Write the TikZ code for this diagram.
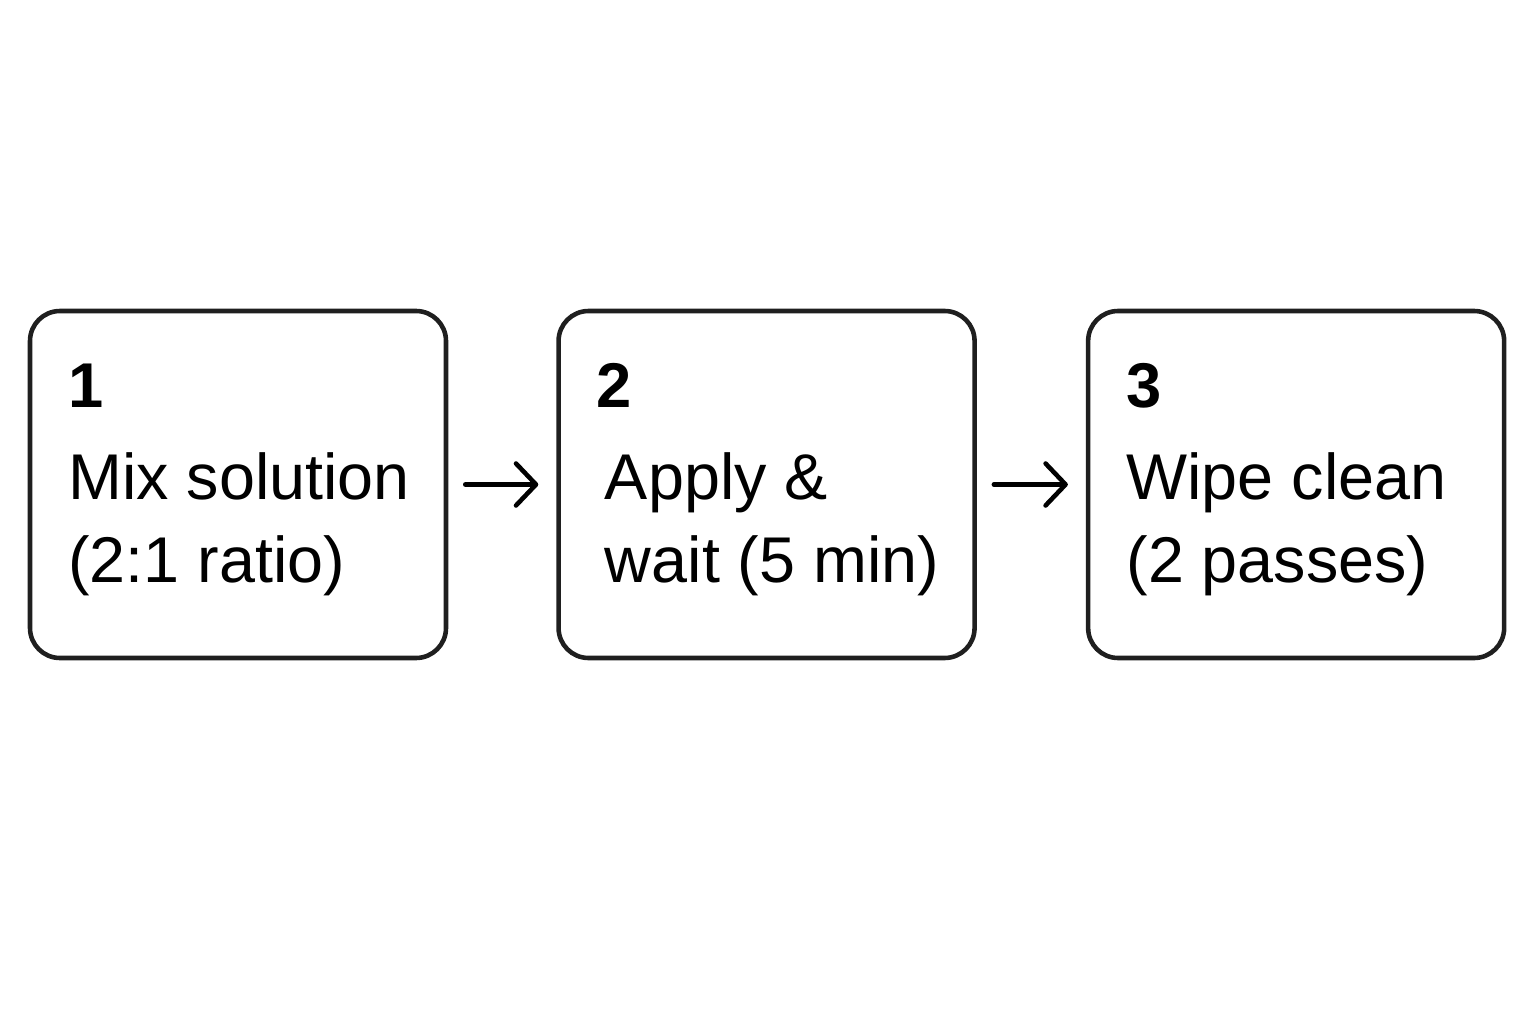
\documentclass[tikz,border=0pt]{standalone}
\usepackage{fontspec}
\setmainfont{Liberation Sans}
\usetikzlibrary{arrows.meta,positioning}
\tikzset{
	stepbox/.style={draw=black!88, line width=1.3pt, rounded corners=0.3cm, minimum width=4.16cm, minimum height=3.47cm},
	stepnum/.style={anchor=base west, inner sep=0pt, font=\fontsize{18}{22}\selectfont\bfseries},
	steptext/.style={anchor=base west, inner sep=0pt, align=left, font=\fontsize{18.4}{23.6}\selectfont},
	flow/.style={line width=1.3pt, line cap=round, -{Straight Barb[round, length=0.2cm, width=0.42cm]}, shorten <=0.17cm, shorten >=0.18cm}
}
\begin{document}
\begin{tikzpicture}
	\useasboundingbox (0,0) rectangle (15.36,10.24);
	
	\node[stepbox] (mix) at (2.38,5.395) {};
	\node[stepbox, right=1.08cm of mix] (apply) {};
	\node[stepbox, right=1.09cm of apply] (wipe) {};
	
	\node[stepnum] (n1) at ([xshift=0.4cm, yshift=-0.99cm]mix.north west) {1};
	\node[steptext] (t1) at ([xshift=0.4cm, yshift=-2.74cm]mix.north west) {Mix solution\\(2:1 ratio)};
	
	\node[stepnum] (n2) at ([xshift=0.4cm, yshift=-0.99cm]apply.north west) {2};
	\node[steptext] (t2) at ([xshift=0.48cm, yshift=-2.74cm]apply.north west) {Apply \&\\wait (5 min)};
	
	\node[stepnum] (n3) at ([xshift=0.4cm, yshift=-0.99cm]wipe.north west) {3};
	\node[steptext] (t3) at ([xshift=0.4cm, yshift=-2.74cm]wipe.north west) {Wipe clean\\(2 passes)};
	
	\draw[flow] (mix) -- (apply);
	\draw[flow] (apply) -- (wipe);
	
\end{tikzpicture}
\end{document}
